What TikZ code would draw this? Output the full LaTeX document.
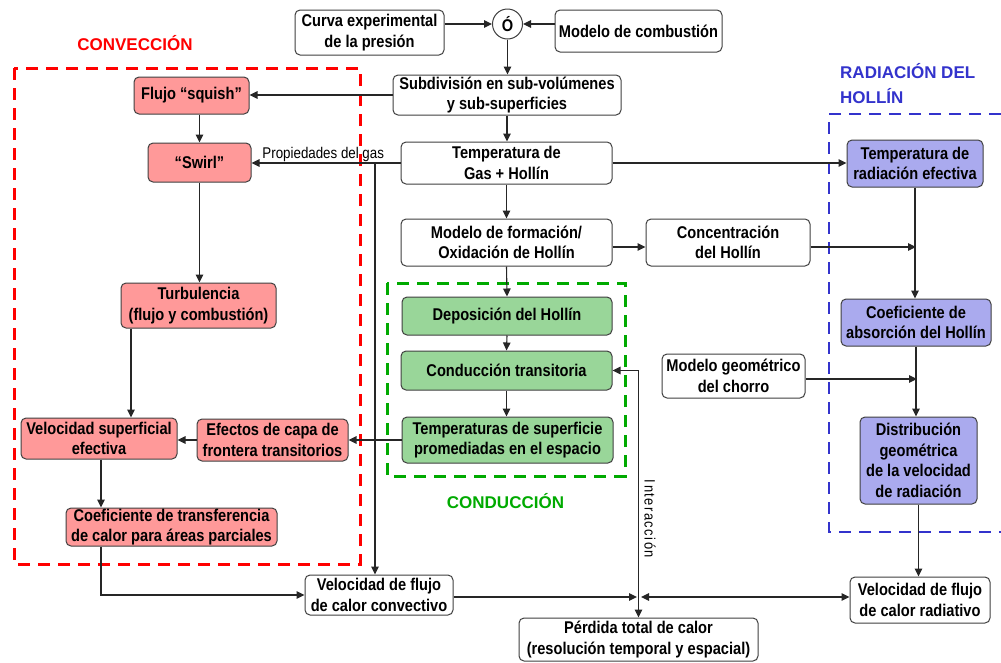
\documentclass[tikz,border=0pt]{standalone}
\usepackage{fontspec}
\setmainfont{Liberation Sans}[FakeStretch=0.86]
\newfontfamily\labfont{Liberation Sans}
\newfontfamily\spfont{Liberation Sans}[FakeStretch=0.86,LetterSpace=10]
\usetikzlibrary{arrows.meta}
\definecolor{pinkf}{RGB}{255,153,153}
\definecolor{greenf}{RGB}{153,214,153}
\definecolor{bluef}{RGB}{170,170,238}
\definecolor{redd}{RGB}{255,0,0}
\definecolor{greend}{RGB}{0,170,0}
\definecolor{blued}{RGB}{51,51,204}
\definecolor{edge}{RGB}{64,64,64}
\tikzset{
  >={Triangle[length=8pt,width=7.5pt]},
  box/.style={draw=edge, line width=1pt, rounded corners=5pt, fill=white, align=center,
    inner sep=0pt, font=\bfseries\fontsize{17}{20.5}\selectfont},
  pinkbox/.style={box, fill=pinkf},
  greenbox/.style={box, fill=greenf},
  bluebox/.style={box, fill=bluef},
  conn/.style={->, draw=black!85, line width=1.1pt},
  biconn/.style={<->, draw=black!85, line width=1.1pt},
  grp/.style={line width=3pt, dash pattern=on 12pt off 8pt},
  grplabel/.style={font=\labfont\bfseries\fontsize{17}{20}\selectfont, inner sep=0pt},
}
\begin{document}
\begin{tikzpicture}[x=1pt,y=-1pt]
\useasboundingbox[fill=white] (0,0) rectangle (1001,662);

% group frames
\draw[grp, redd] (14,68) rectangle (360,564);
\draw[grp, greend] (387,283) rectangle (625,476);
\draw[grp, blued, line width=2.6pt] (1001,114) -- (829,114) -- (829,532) -- (1001,532);

% group labels
\node[grplabel, text=redd, anchor=base] (lconv) at (135,50) {CONVECCIÓN};
\node[grplabel, text=greend, anchor=base] (lcond) at (505.5,508) {CONDUCCIÓN};
\node[grplabel, text=blued, anchor=base west] (lrad1) at (840,78) {RADIACIÓN DEL};
\node[grplabel, text=blued, anchor=base west] (lrad2) at (840,103) {HOLLÍN};

% top
\node[box, minimum width=149pt, minimum height=45pt] (curva) at (369.5,32.5) {Curva experimental\\de la presión};
\node[box, circle, rounded corners=0pt, minimum size=30pt] (circ) at (507.5,24) {Ó};
\node[box, minimum width=167pt, minimum height=42pt] (modcomb) at (638.5,31) {Modelo de combustión};
\node[box, minimum width=228pt, minimum height=40pt] (subdiv) at (507,95) {Subdivisión en sub-volúmenes\\y sub-superficies};

% center column
\node[box, minimum width=211pt, minimum height=42pt] (temp) at (506.5,163) {Temperatura de\\Gas + Hollín};
\node[box, minimum width=211pt, minimum height=47pt] (modform) at (506.5,242.5) {Modelo de formación/\\Oxidación de Hollín};
\node[box, minimum width=164pt, minimum height=47pt] (conc) at (728,242.5) {Concentración\\del Hollín};
\node[greenbox, minimum width=210pt, minimum height=38pt] (depos) at (507,316) {Deposición del Hollín};
\node[greenbox, minimum width=211pt, minimum height=39pt] (cond) at (506.5,370.5) {Conducción transitoria};
\node[greenbox, minimum width=211pt, minimum height=46pt] (tsup) at (507.5,440) {Temperaturas de superficie\\promediadas en el espacio};
\node[box, minimum width=143pt, minimum height=44pt] (modgeo) at (733.5,376) {Modelo geométrico\\del chorro};

% convection
\node[pinkbox, minimum width=115pt, minimum height=37pt] (squish) at (191.5,95.5) {Flujo “squish”};
\node[pinkbox, minimum width=103pt, minimum height=39pt] (swirl) at (199.5,162.5) {“Swirl”};
\node[pinkbox, minimum width=155pt, minimum height=45pt] (turb) at (198.5,305.5) {Turbulencia\\(flujo y combustión)};
\node[pinkbox, minimum width=151pt, minimum height=42pt] (efectos) at (272.5,440) {Efectos de capa de\\frontera transitorios};
\node[pinkbox, minimum width=156pt, minimum height=41pt] (velsup) at (99,438.5) {Velocidad superficial\\efectiva};
\node[pinkbox, minimum width=211pt, minimum height=38pt] (coef) at (171.5,527) {Coeficiente de transferencia\\de calor para áreas parciales};

% radiation
\node[bluebox, minimum width=136pt, minimum height=47pt] (trad) at (915,163.5) {Temperatura de\\radiación efectiva};
\node[bluebox, minimum width=150pt, minimum height=47pt] (cabs) at (916,322.5) {Coeficiente de\\absorción del Hollín};
\node[bluebox, minimum width=117pt, minimum height=87pt] (dist) at (918.5,460.5) {Distribución\\geométrica\\de la velocidad\\de radiación};

% bottom
\node[box, minimum width=148pt, minimum height=40pt] (conv) at (379,595) {Velocidad de flujo\\de calor convectivo};
\node[box, minimum width=140pt, minimum height=46pt] (vrad) at (920,600) {Velocidad de flujo\\de calor radiativo};
\node[box, minimum width=239pt, minimum height=43pt] (perd) at (638.5,639.5) {Pérdida total de calor\\(resolución temporal y espacial)};

% helper coordinates
\coordinate (pgx) at (375,0);
\coordinate (tvx) at (131,0);
\coordinate (cvx) at (101,0);
\coordinate (cj) at (916,247);
\coordinate (mj) at (917,379);
\coordinate (pj) at (639,597);

% connectors
\draw[conn] (curva.east |- circ.west) -- (circ.west);
\draw[conn] (modcomb.west |- circ.east) -- (circ.east);
\draw[conn] (circ.south) -- (circ.south |- subdiv.north);
\draw[conn] (subdiv.west) -- (subdiv.west -| squish.east);
\draw[conn] (subdiv.south) -- (subdiv.south |- temp.north);
\draw[conn] (swirl.north |- squish.south) -- (swirl.north);
\draw[conn] (temp.west) -- (temp.west -| swirl.east)
  node[pos=0.93, above=1pt, anchor=south west, inner sep=0pt, font=\fontsize{15.5}{18}\selectfont] (pgas) {Propiedades del gas};
\draw[conn] (temp.west -| pgx) -- (pgx |- conv.north);
\draw[conn] (swirl.south) -- (swirl.south |- turb.north);
\draw[conn] (tvx |- turb.south) -- (tvx |- velsup.north);
\draw[conn] (efectos.west) -- (efectos.west -| velsup.east);
\draw[conn] (tsup.west) -- (tsup.west -| efectos.east);
\draw[conn] (cvx |- velsup.south) -- (cvx |- coef.north);
\draw[conn] (cvx |- coef.south) |- (conv.west);
\draw[conn] (temp.south) -- (modform.north);
\draw[conn] (modform.south) -- (depos.north);
\draw[conn] (depos.south) -- (cond.north);
\draw[conn] (cond.south) -- (cond.south |- tsup.north);
\draw[conn] ([yshift=-4.5pt]modform.east) -- ([yshift=-4.5pt]conc.west);
\draw[conn] (temp.east) -- (temp.east -| trad.west);
\draw[conn] (cj -| conc.east) -- (cj);
\draw[conn] (trad.south) -- (trad.south |- cabs.north);
\draw[conn] (mj -| modgeo.east) -- (mj);
\draw[conn] (cabs.south) -- (cabs.south |- dist.north);
\draw[conn] (dist.south) -- (dist.south |- vrad.north);
\draw[conn] (pj -| conv.east) -- ([xshift=-2pt]pj);
\draw[biconn] ([xshift=2pt]pj) -- (pj -| vrad.west);
\draw[biconn] (cond.east) -| (perd.north);
\node[rotate=-90, inner sep=0pt, font=\spfont\fontsize{15}{18}\selectfont] (inter) at (650,519) {Interacción};
\end{tikzpicture}
\end{document}
